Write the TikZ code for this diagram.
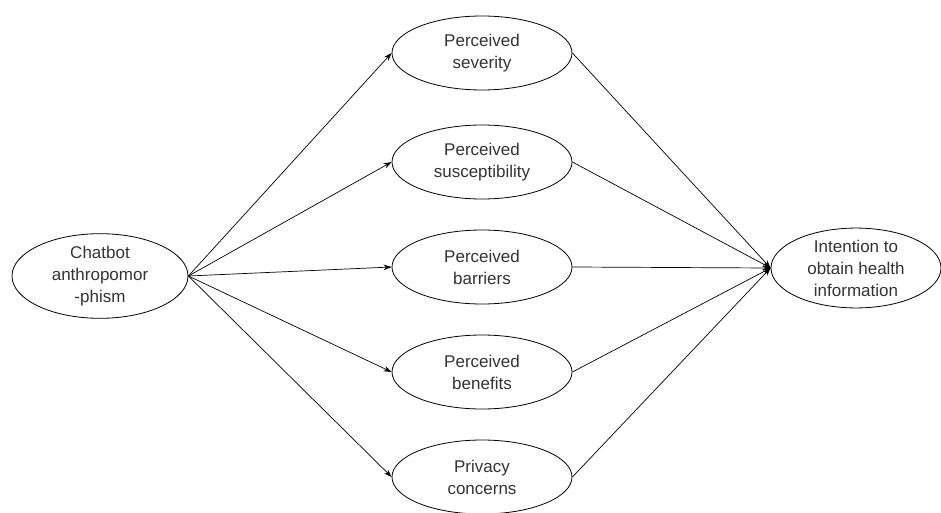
\documentclass[tikz,border=0pt]{standalone}
\usepackage{fontspec}
\setmainfont{Liberation Sans}
\usetikzlibrary{shapes.geometric,arrows.meta}
\begin{document}
\begin{tikzpicture}[x=1pt,y=-1pt,
  oval/.style={draw,ellipse,line width=0.8pt,inner sep=0pt,minimum width=180pt,minimum height=74pt,align=center,font=\fontsize{17}{22}\selectfont,text=black!80},
  link/.style={draw,line width=0.7pt,-{Stealth[length=8pt,width=5.5pt]}}]
\useasboundingbox (0,0) rectangle (941,513);
\node[oval,minimum width=176pt,minimum height=76pt] (ca) at (100,276) {Chatbot\\anthropomor\\-phism};
\node[oval] (ps) at (482,53) {Perceived\\severity};
\node[oval] (pu) at (482,162) {Perceived\\susceptibility};
\node[oval] (pb) at (482,267) {Perceived\\barriers};
\node[oval] (pf) at (482,372) {Perceived\\benefits};
\node[oval] (pc) at (482,477) {Privacy\\concerns};
\node[oval,minimum width=170pt,minimum height=76pt] (it) at (856,268) {Intention to\\obtain health\\information};
\foreach \n in {ps,pu,pb,pf,pc}{
  \draw[link] (ca.east) -- (\n.west);
  \draw[link] (\n.east) -- (it.west);
}
\end{tikzpicture}
\end{document}
